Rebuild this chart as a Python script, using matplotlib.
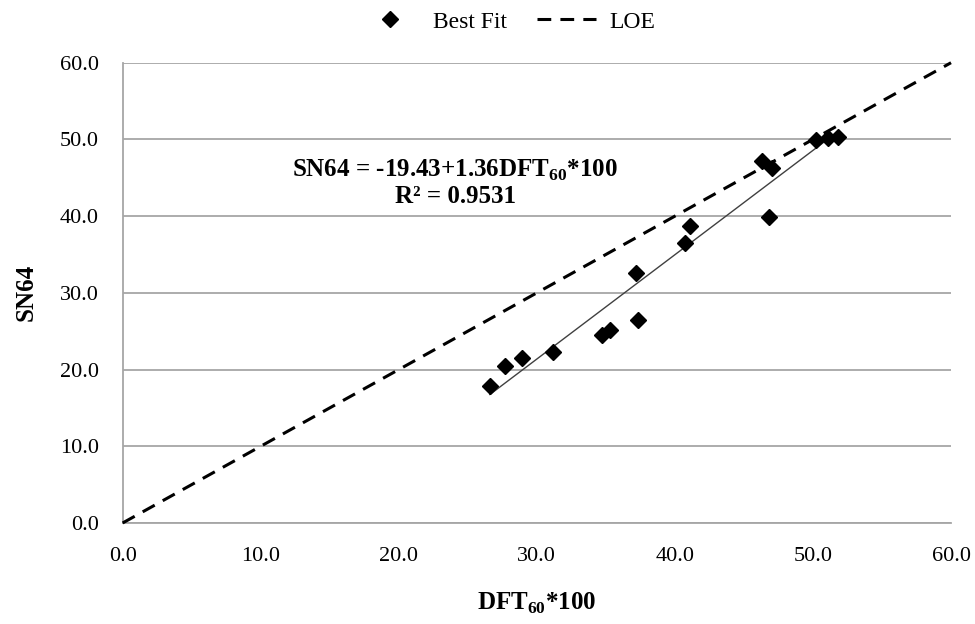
import matplotlib

matplotlib.use("Agg")

import matplotlib.pyplot as plt
import numpy as np

# values
dft60 = [26.6, 27.7, 28.9, 31.2, 34.7, 35.3, 37.3, 37.2, 40.7, 41.1,
         46.8, 46.3, 47.0, 50.2, 51.1, 51.8]
sn64 = [17.9, 20.5, 21.5, 22.3, 24.5, 25.2, 26.5, 32.6, 36.5, 38.7,
        39.9, 47.2, 46.3, 49.9, 50.2, 50.3]

fit_intercept = -19.43
fit_slope = 1.36
loe_range = [0.0, 60.0]

ticks = [0, 10, 20, 30, 40, 50, 60]
tick_labels = ["0.0", "10.0", "20.0", "30.0", "40.0", "50.0", "60.0"]

plt.rcParams["font.family"] = ["Liberation Serif", "DejaVu Serif"]
plt.rcParams["mathtext.fontset"] = "custom"
plt.rcParams["mathtext.rm"] = "Liberation Serif"
plt.rcParams["mathtext.bf"] = "Liberation Serif:bold"

fig = plt.figure(figsize=(9.75, 6.24), dpi=100)
ax = fig.add_axes([0.1258, 0.1619, 0.8496, 0.7376])

ax.set_xlim(0, 60)
ax.set_ylim(0, 60)
ax.set_xticks(ticks)
ax.set_xticklabels(tick_labels)
ax.set_yticks(ticks)
ax.set_yticklabels(tick_labels)
ax.tick_params(length=0, labelsize=16)
ax.tick_params(axis="x", pad=17)
ax.tick_params(axis="y", pad=17)

ax.grid(axis="y", color="#a6a6a6", linewidth=1.3)
ax.set_axisbelow(True)
for side in ["top", "right"]:
    ax.spines[side].set_visible(False)
for side in ["left", "bottom"]:
    ax.spines[side].set_color("#a6a6a6")
    ax.spines[side].set_linewidth(1.3)

# trend line over the data range
fit_x = np.array([min(dft60), max(dft60)])
ax.plot(fit_x, fit_intercept + fit_slope * fit_x, color="#404040",
        linewidth=1.0, zorder=2)

ax.plot(dft60, sn64, linestyle="none", marker="D", markersize=8.5,
        color="black", label="Best Fit", zorder=4)
ax.plot(loe_range, loe_range, linestyle=(0, (4.5, 3)), color="black",
        linewidth=2.2, label="LOE", zorder=3, clip_on=False)

ax.text(24.1, 46.0, r"SN64 = -19.43+1.36DFT$_{\mathbf{60}}$*100",
        fontsize=18, fontweight="bold", ha="center", va="center")
ax.text(24.1, 42.5, "R² = 0.9531", fontsize=18, fontweight="bold",
        ha="center", va="center")

ax.set_xlabel(r"DFT$_{\mathbf{60}}$*100", fontsize=18, fontweight="bold",
              labelpad=18)
ax.set_ylabel("SN64", fontsize=18, fontweight="bold", labelpad=16)

ax.legend(loc="lower center", bbox_to_anchor=(0.465, 1.045), ncol=2,
          frameon=False, fontsize=17, handlelength=2.5, handletextpad=0.55,
          columnspacing=1.3, borderaxespad=0)

fig.savefig("out.png", dpi=100)
